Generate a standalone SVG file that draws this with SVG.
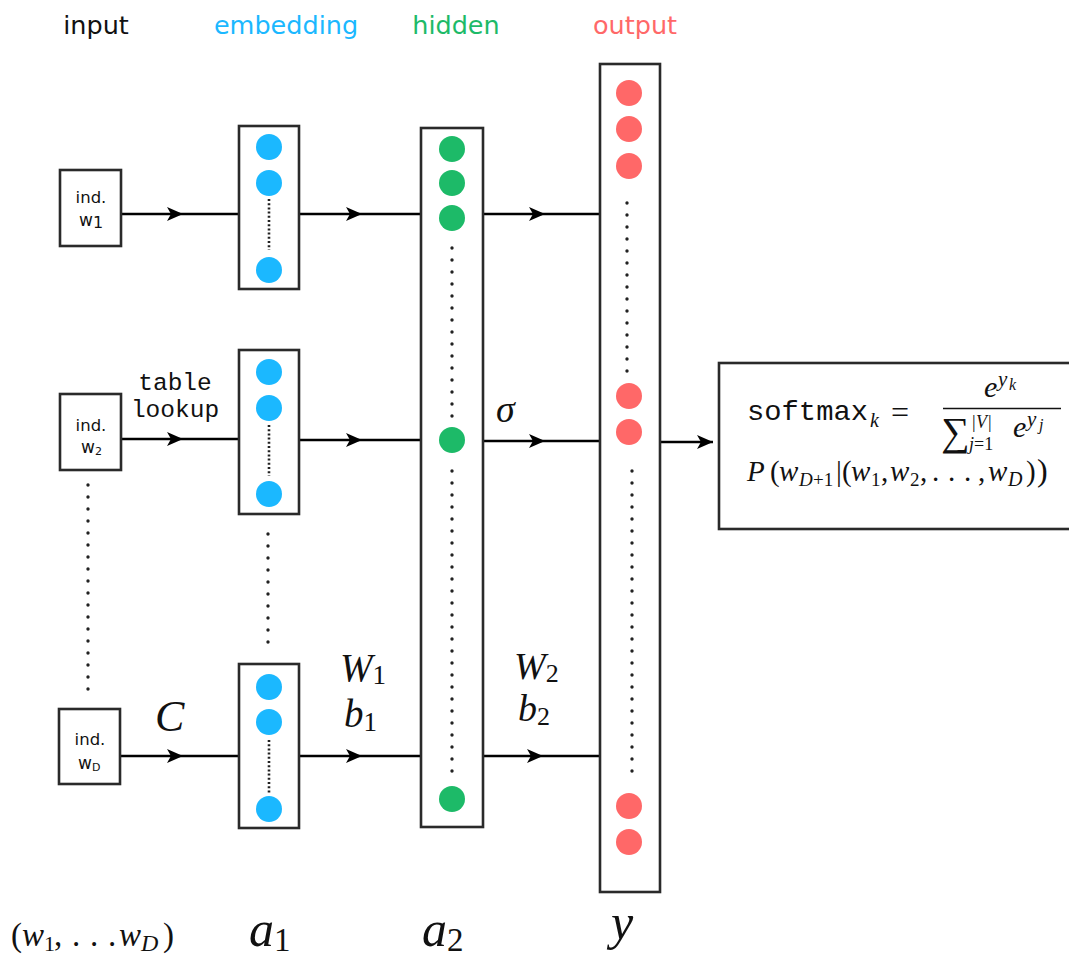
<svg xmlns="http://www.w3.org/2000/svg" width="1069" height="956" viewBox="0 0 1069 956">
  <style>
    .box { fill: #ffffff; stroke: #2a2a2a; stroke-width: 2.6; }
    .wire { fill: none; stroke: #000000; stroke-width: 2.5; marker-mid: url(#arr); }
    .wire-end { fill: none; stroke: #000000; stroke-width: 2.5; marker-end: url(#arr); }
    .dense { stroke: #222222; stroke-width: 2.6; stroke-dasharray: 2 2.2; }
    .sparse { stroke: #222222; stroke-width: 3.4; stroke-linecap: round; stroke-dasharray: 0 12; }
    .emb { fill: #1bb8ff; }
    .hid { fill: #1dba68; }
    .out { fill: #ff6868; }
    .head { font-family: "DejaVu Sans", sans-serif; font-size: 25.5px; text-anchor: middle; }
    .sans { font-family: "DejaVu Sans", sans-serif; fill: #111111; }
    .mono { font-family: "Liberation Mono", "DejaVu Sans Mono", monospace; fill: #111111; }
    .mi { font-family: "Liberation Serif", "DejaVu Serif", serif; font-style: italic; fill: #111111; }
    .mr { font-family: "Liberation Serif", "DejaVu Serif", serif; font-style: normal; fill: #111111; }
  </style>
  <defs>
    <marker id="arr" markerUnits="userSpaceOnUse" markerWidth="18" markerHeight="14" refX="16" refY="7" orient="auto">
      <path d="M0,0 L16,7 L0,14 L4,7 z" fill="#000000"/>
    </marker>
  </defs>

  <!-- column headings -->
  <g id="headings">
    <text class="head" x="96" y="34" fill="#111111">input</text>
    <text class="head" x="286" y="34" fill="#1bb8ff">embedding</text>
    <text class="head" x="456" y="34" fill="#1dba68">hidden</text>
    <text class="head" x="635" y="34" fill="#ff6868">output</text>
  </g>

  <!-- connectors -->
  <g id="connectors">
    <path class="wire" d="M121,214 L183,214 L239,214"/>
    <path class="wire" d="M299,214 L362,214 L421,214"/>
    <path class="wire" d="M483,214 L545,214 L603,214"/>
    <path class="wire" d="M121,439 L183,439 L239,439"/>
    <path class="wire" d="M299,440 L362,440 L421,440"/>
    <path class="wire" d="M483,441 L545,441 L600,441"/>
    <path class="wire-end" d="M660,442 L713,442"/>
    <path class="wire" d="M119,756 L183,756 L239,756"/>
    <path class="wire" d="M299,756 L362,756 L421,756"/>
    <path class="wire" d="M483,756 L543,756 L600,756"/>
  </g>

  <!-- input word indices -->
  <g id="input-1">
    <rect class="box" x="60" y="170" width="61" height="76"/>
    <text class="sans" x="91" y="203" font-size="16.5" text-anchor="middle">ind.</text>
    <text class="sans" x="79" y="226" font-size="17">w<tspan font-size="16" dy="2">1</tspan></text>
  </g>
  <g id="input-2">
    <rect class="box" x="60" y="394" width="61" height="76"/>
    <text class="sans" x="91" y="431" font-size="16.5" text-anchor="middle">ind.</text>
    <text class="sans" x="81" y="453" font-size="17">w<tspan font-size="11" dy="2">2</tspan></text>
  </g>
  <g id="input-ellipsis">
    <line class="sparse" x1="88" y1="485" x2="88" y2="690"/>
  </g>
  <g id="input-D">
    <rect class="box" x="59" y="709" width="61" height="75"/>
    <text class="sans" x="90" y="745" font-size="16.5" text-anchor="middle">ind.</text>
    <text class="sans" x="78" y="769" font-size="17">w<tspan font-size="11" dy="2">D</tspan></text>
  </g>

  <!-- embedding vectors -->
  <g id="embedding-1">
    <rect class="box" x="239" y="126" width="60" height="163"/>
    <circle class="emb" cx="269" cy="147" r="13"/>
    <circle class="emb" cx="269" cy="183" r="13"/>
    <line class="dense" x1="269" y1="199" x2="269" y2="250"/>
    <circle class="emb" cx="269" cy="270" r="13"/>
  </g>
  <g id="embedding-2">
    <rect class="box" x="239" y="350" width="60" height="164"/>
    <circle class="emb" cx="269" cy="372" r="13"/>
    <circle class="emb" cx="269" cy="408" r="13"/>
    <line class="dense" x1="269" y1="425" x2="269" y2="476"/>
    <circle class="emb" cx="269" cy="494" r="13"/>
  </g>
  <g id="embedding-ellipsis">
    <line class="sparse" x1="268" y1="534" x2="268" y2="644"/>
  </g>
  <g id="embedding-D">
    <rect class="box" x="239" y="664" width="60" height="164"/>
    <circle class="emb" cx="269" cy="687" r="13"/>
    <circle class="emb" cx="269" cy="722" r="13"/>
    <line class="dense" x1="269" y1="740" x2="269" y2="794"/>
    <circle class="emb" cx="269" cy="809" r="13"/>
  </g>

  <!-- hidden layer -->
  <g id="hidden">
    <rect class="box" x="421" y="128" width="62" height="699"/>
    <circle class="hid" cx="452" cy="149" r="13"/>
    <circle class="hid" cx="452" cy="183" r="13"/>
    <circle class="hid" cx="452" cy="218" r="13"/>
    <line class="sparse" x1="452" y1="248" x2="452" y2="417"/>
    <circle class="hid" cx="452" cy="440" r="13"/>
    <line class="sparse" x1="452" y1="471" x2="452" y2="772"/>
    <circle class="hid" cx="452" cy="799" r="13"/>
  </g>

  <!-- output layer -->
  <g id="output">
    <rect class="box" x="600" y="64" width="60" height="828"/>
    <circle class="out" cx="629" cy="93" r="13"/>
    <circle class="out" cx="629" cy="129" r="13"/>
    <circle class="out" cx="629" cy="166" r="13"/>
    <line class="sparse" x1="627" y1="203" x2="627" y2="372"/>
    <circle class="out" cx="629" cy="396" r="13"/>
    <circle class="out" cx="629" cy="432" r="13"/>
    <line class="sparse" x1="632" y1="471" x2="632" y2="772"/>
    <circle class="out" cx="629" cy="806" r="13"/>
    <circle class="out" cx="629" cy="842" r="13"/>
  </g>

  <!-- softmax box -->
  <g id="softmax">
    <rect class="box" x="719" y="363" width="370" height="166"/>
    <text class="mono" x="747" y="420" font-size="28" textLength="121" lengthAdjust="spacingAndGlyphs">softmax</text>
    <text class="mi" x="870" y="427" font-size="20">k</text>
    <text class="mr" x="891" y="423" font-size="32">=</text>
    <!-- numerator -->
    <text class="mi" x="984" y="397" font-size="30">e</text>
    <text class="mi" x="998" y="386" font-size="21">y</text>
    <text class="mi" x="1009" y="390" font-size="16">k</text>
    <line x1="943" y1="408.5" x2="1061" y2="408.5" stroke="#111111" stroke-width="1.3"/>
    <!-- denominator -->
    <text class="mr" x="941" y="445" font-size="40">∑</text>
    <text class="mi" x="971" y="428" font-size="18">|V|</text>
    <text class="mi" x="969" y="450" font-size="18">j<tspan class="mr">=1</tspan></text>
    <text class="mi" x="1013" y="437" font-size="30">e</text>
    <text class="mi" x="1027" y="426" font-size="21">y</text>
    <text class="mi" x="1039" y="430" font-size="16">j</text>
    <!-- conditional probability -->
    <text class="mr" y="481" font-size="29"><tspan class="mi" x="747">P</tspan><tspan x="770">(</tspan><tspan class="mi" x="779">w</tspan><tspan class="mi" font-size="19" dy="5" x="799">D</tspan><tspan font-size="19" x="813">+1</tspan><tspan x="836" dy="-5">|</tspan><tspan x="842">(</tspan><tspan class="mi" x="851">w</tspan><tspan font-size="19" dy="5" x="871">1</tspan><tspan x="881" dy="-5">,</tspan><tspan class="mi" x="890">w</tspan><tspan font-size="19" dy="5" x="910">2</tspan><tspan x="920" dy="-5">,</tspan><tspan x="932">.</tspan><tspan x="948">.</tspan><tspan x="964">.</tspan><tspan x="978">,</tspan><tspan class="mi" x="988">w</tspan><tspan class="mi" font-size="20" dy="5" x="1008">D</tspan><tspan x="1026" dy="-5">)</tspan><tspan x="1037" font-size="32">)</tspan></text>
  </g>

  <!-- parameter labels -->
  <g id="labels">
    <text class="mono" x="175" y="390" font-size="24.5" text-anchor="middle">table</text>
    <text class="mono" x="175" y="417" font-size="24.5" text-anchor="middle">lookup</text>
    <text class="mi" x="155" y="731" font-size="44">C</text>
    <text class="mi" x="340" y="681" font-size="39">W<tspan class="mr" font-size="27" dy="3">1</tspan></text>
    <text class="mi" x="344" y="727" font-size="39">b<tspan class="mr" font-size="27" dy="4">1</tspan></text>
    <text class="mi" x="514" y="679" font-size="38">W<tspan class="mr" font-size="26" dy="3">2</tspan></text>
    <text class="mi" x="518" y="721" font-size="38">b<tspan class="mr" font-size="26" dy="4">2</tspan></text>
    <text class="mi" x="496" y="422" font-size="38">σ</text>
  </g>

  <!-- layer symbols -->
  <g id="symbols">
    <text class="mr" y="946" font-size="33"><tspan x="11">(</tspan><tspan class="mi" x="22">w</tspan><tspan font-size="22" dy="5" x="44">1</tspan><tspan x="54" dy="-5">,</tspan><tspan x="72">.</tspan><tspan x="90">.</tspan><tspan x="108">.</tspan><tspan class="mi" x="119">w</tspan><tspan class="mi" font-size="24" dy="5" x="141">D</tspan><tspan x="163" dy="-5">)</tspan></text>
    <text class="mi" x="249" y="946" font-size="50">a<tspan class="mr" font-size="33" dy="5">1</tspan></text>
    <text class="mi" x="422" y="946" font-size="50">a<tspan class="mr" font-size="33" dy="5">2</tspan></text>
    <text class="mi" x="611" y="939" font-size="50">y</text>
  </g>
</svg>
